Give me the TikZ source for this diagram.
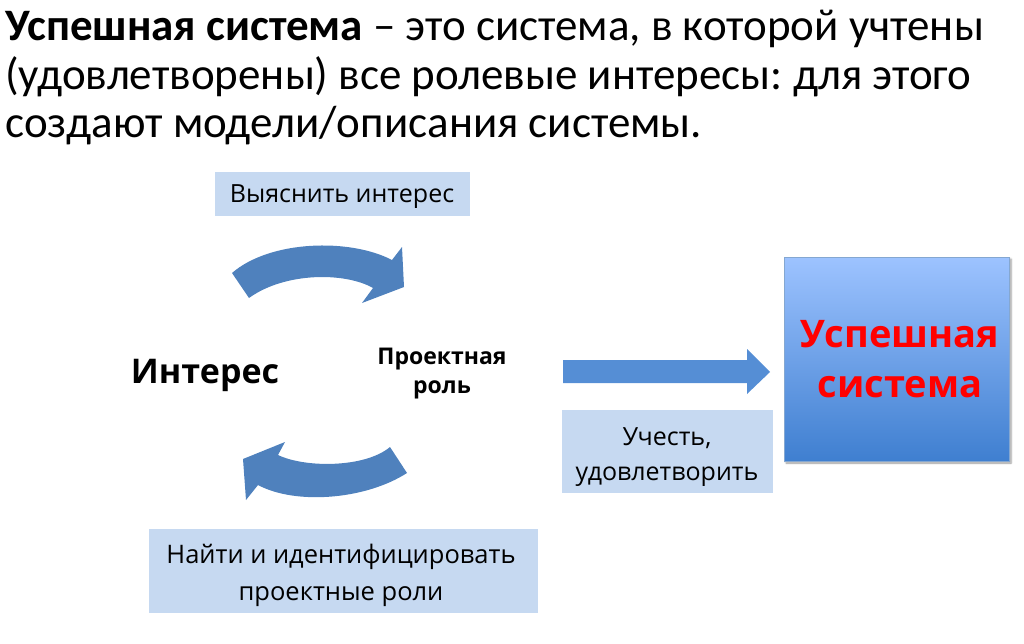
\documentclass[tikz,border=0pt]{standalone}
\usepackage{fontspec}
\setmainfont{Carlito}
\newfontfamily\osans{Open Sans}
\usetikzlibrary{shadows.blur}
\definecolor{boxblue}{HTML}{C6D9F1}
\definecolor{arrblue}{HTML}{4F81BD}
\definecolor{arrblue2}{HTML}{558ED5}
\definecolor{systop}{HTML}{9DC3FF}
\definecolor{sysbot}{HTML}{3F7FD0}
\frenchspacing
\tikzset{
  titleline/.style={anchor=base west, inner sep=0pt, font=\fontsize{45}{48}\selectfont},
  plain/.style={inner sep=0pt, align=center},
  blockarrow/.style={fill=arrblue, draw=none},
}
\begin{document}
\begin{tikzpicture}[x=1pt, y=-1pt]
\useasboundingbox (0,0) rectangle (1024,644);
% title
\node[titleline] (t1) at (5,41) {\textbf{Успешная система} – это система, в которой учтены};
\node[titleline] (t2) at (5,90) {(удовлетворены) все ролевые интересы: для этого};
\node[titleline] (t3) at (5,138) {создают модели/описания системы.};
% boxes
\path[fill=boxblue] (215,172) rectangle (470,216);
\node[plain, font=\osans\fontsize{25}{30}\selectfont, anchor=base] (ask) at (342,203) {Выяснить интерес};
\path[fill=boxblue] (562,410) rectangle (773,493);
\node[plain, font=\osans\fontsize{25}{35}\selectfont, anchor=base] (acc) at (667,480) {Учесть,\\удовлетворить};
\path[fill=boxblue] (149,529) rectangle (538,613);
\node[plain, font=\osans\fontsize{25.5}{37}\selectfont, anchor=base] (find) at (341,600) {Найти и идентифицировать\\проектные роли};
% labels
\node[plain, font=\osans\bfseries\fontsize{34}{40}\selectfont, anchor=base] (int) at (205,383) {Интерес};
\node[plain, font=\osans\bfseries\fontsize{23}{29}\selectfont, anchor=base] (role) at (442,393) {Проектная\\роль};
% system box
\shade[top color=systop, bottom color=sysbot, draw=arrblue!70, blur shadow={shadow xshift=2pt, shadow yshift=-2pt, shadow blur steps=5}] (784,257) rectangle (1009,461);
\node[plain, font=\osans\bfseries\fontsize{38}{50}\selectfont, text=red, anchor=base] (sys) at (900,397) {Успешная\\система};
% curved arrows
\path[blockarrow] (232,273) .. controls (270,240) and (350,238) .. (392,260)
  -- (402,247) -- (404,287) -- (362,303) -- (373,288)
  .. controls (345,272) and (285,272) .. (249,298) -- cycle;
\path[blockarrow] (390,447) .. controls (365,468) and (305,468) .. (278,455)
  -- (285,442) -- (243,459) -- (246,500) -- (258,485)
  .. controls (295,505) and (365,500) .. (407,473) -- cycle;
% straight arrow
\path[fill=arrblue2] (563,360) -- (747,360) -- (747,349) -- (770,372) -- (747,394) -- (747,383) -- (563,383) -- cycle;
\end{tikzpicture}
\end{document}
